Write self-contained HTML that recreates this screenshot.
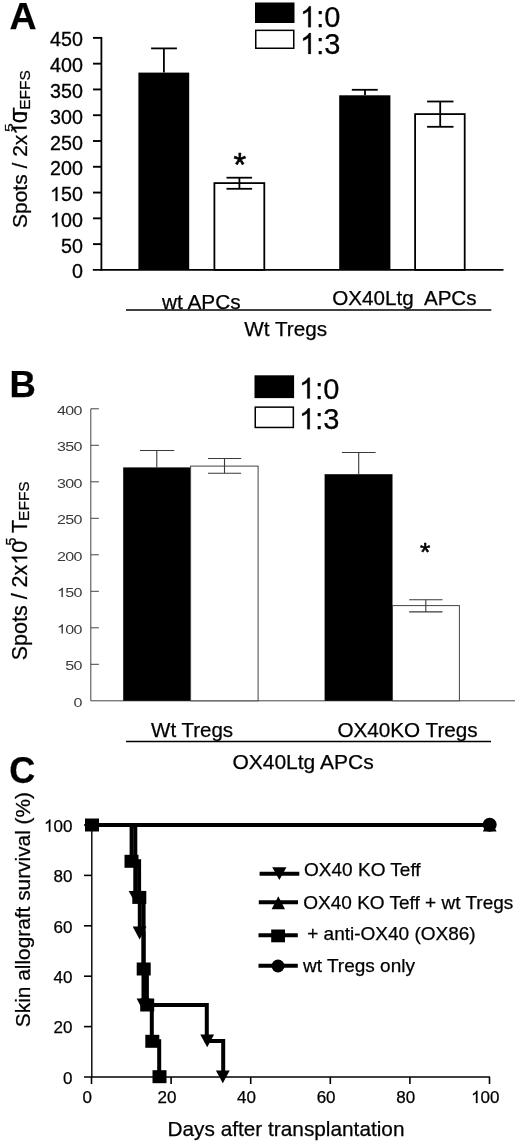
<!DOCTYPE html>
<html><head><meta charset="utf-8">
<style>
html,body{margin:0;padding:0;background:#fff;}
body{width:520px;height:1143px;overflow:hidden;}
svg{display:block;will-change:transform;}
text{font-family:"Liberation Sans",sans-serif;fill:#000;stroke:#000;stroke-width:0.25px;}
</style></head>
<body>
<svg width="520" height="1143" viewBox="0 0 520 1143">
<rect x="0" y="0" width="520" height="1143" fill="#fff"/>
<text x="9.4" y="28.8" font-size="37.5" font-weight="bold">A</text>
<rect x="255" y="2.5" width="39.5" height="20.5" fill="#000"/>
<rect x="255.75" y="30.35" width="38" height="17.9" fill="#fff" stroke="#000" stroke-width="1.5"/>
<text x="300" y="27.2" font-size="29" style="stroke-width:0.25px;fill:#000;stroke:#000" ><tspan style="fill:none;stroke:none">1</tspan>:0</text>
<path d="M763 0H583V1147Q518 1085 412.5 1023T223 930V1104Q374 1175 487 1276T647 1472H763Z" transform="translate(300 27.2) scale(0.014160 -0.014160)" style="fill:#000;stroke:#000;stroke-width:17.655"/>
<text x="300" y="53.9" font-size="29" style="stroke-width:0.25px;fill:#000;stroke:#000" ><tspan style="fill:none;stroke:none">1</tspan>:3</text>
<path d="M763 0H583V1147Q518 1085 412.5 1023T223 930V1104Q374 1175 487 1276T647 1472H763Z" transform="translate(300 53.9) scale(0.014160 -0.014160)" style="fill:#000;stroke:#000;stroke-width:17.655"/>
<g stroke="#000" fill="none">
<line x1="101.4" y1="36.93" x2="101.4" y2="270.8" stroke-width="1.8"/>
<line x1="93" y1="244.12" x2="101.4" y2="244.12" stroke-width="1.9"/>
<line x1="93" y1="218.34" x2="101.4" y2="218.34" stroke-width="1.9"/>
<line x1="93" y1="192.56" x2="101.4" y2="192.56" stroke-width="1.9"/>
<line x1="93" y1="166.78" x2="101.4" y2="166.78" stroke-width="1.9"/>
<line x1="93" y1="141" x2="101.4" y2="141" stroke-width="1.9"/>
<line x1="93" y1="115.22" x2="101.4" y2="115.22" stroke-width="1.9"/>
<line x1="93" y1="89.44" x2="101.4" y2="89.44" stroke-width="1.9"/>
<line x1="93" y1="63.66" x2="101.4" y2="63.66" stroke-width="1.9"/>
<line x1="93" y1="37.88" x2="101.4" y2="37.88" stroke-width="1.9"/>
<line x1="92.8" y1="269.9" x2="503.5" y2="269.9" stroke-width="1.8"/>
</g>
<text x="71.94" y="278.4" font-size="19.7" style="stroke-width:0.3px;fill:#000;stroke:#000" >0</text>
<text x="60.99" y="252.62" font-size="19.7" style="stroke-width:0.3px;fill:#000;stroke:#000" >50</text>
<text x="50.03" y="226.84" font-size="19.7" style="stroke-width:0.3px;fill:#000;stroke:#000" ><tspan style="fill:none;stroke:none">1</tspan>00</text>
<path d="M763 0H583V1147Q518 1085 412.5 1023T223 930V1104Q374 1175 487 1276T647 1472H763Z" transform="translate(50.03 226.84) scale(0.009619 -0.009619)" style="fill:#000;stroke:#000;stroke-width:31.188"/>
<text x="50.03" y="201.06" font-size="19.7" style="stroke-width:0.3px;fill:#000;stroke:#000" ><tspan style="fill:none;stroke:none">1</tspan>50</text>
<path d="M763 0H583V1147Q518 1085 412.5 1023T223 930V1104Q374 1175 487 1276T647 1472H763Z" transform="translate(50.03 201.06) scale(0.009619 -0.009619)" style="fill:#000;stroke:#000;stroke-width:31.188"/>
<text x="50.03" y="175.28" font-size="19.7" style="stroke-width:0.3px;fill:#000;stroke:#000" >200</text>
<text x="50.03" y="149.5" font-size="19.7" style="stroke-width:0.3px;fill:#000;stroke:#000" >250</text>
<text x="50.03" y="123.72" font-size="19.7" style="stroke-width:0.3px;fill:#000;stroke:#000" >300</text>
<text x="50.03" y="97.94" font-size="19.7" style="stroke-width:0.3px;fill:#000;stroke:#000" >350</text>
<text x="50.03" y="72.16" font-size="19.7" style="stroke-width:0.3px;fill:#000;stroke:#000" >400</text>
<text x="50.03" y="46.38" font-size="19.7" style="stroke-width:0.3px;fill:#000;stroke:#000" >450</text>
<rect x="138.4" y="72.6" width="50.8" height="197.3" fill="#000"/>
<rect x="214.4" y="183.1" width="49.9" height="86.8" fill="#fff" stroke="#000" stroke-width="1.8"/>
<rect x="339.2" y="95.3" width="51.2" height="174.6" fill="#000"/>
<rect x="415.1" y="114.1" width="49.6" height="155.8" fill="#fff" stroke="#000" stroke-width="1.8"/>
<g stroke="#000" stroke-width="1.8">
  <line x1="163.9" y1="72.6" x2="163.9" y2="48.4"/>
  <line x1="151.1" y1="48.4" x2="176.9" y2="48.4"/>
  <line x1="239.4" y1="177.7" x2="239.4" y2="188.8"/>
  <line x1="226.5" y1="177.7" x2="252.1" y2="177.7"/>
  <line x1="226.5" y1="188.8" x2="252.1" y2="188.8"/>
  <line x1="365" y1="95.3" x2="365" y2="89.8"/>
  <line x1="351.8" y1="89.8" x2="377.7" y2="89.8"/>
  <line x1="440.2" y1="101.5" x2="440.2" y2="126.8"/>
  <line x1="427.1" y1="101.5" x2="453.5" y2="101.5"/>
  <line x1="427.1" y1="126.8" x2="453.5" y2="126.8"/>
</g>
<text x="233.5" y="175.9" font-size="32.5" style="stroke-width:0.6px;stroke-linejoin:round">*</text>
<text x="162" y="308.5" font-size="20.8" style="stroke-width:0.25px;fill:#000;stroke:#000" >wt APCs</text>
<text x="332.3" y="305.1" font-size="20.6" style="stroke-width:0.25px;fill:#000;stroke:#000" >OX40Ltg  APCs</text>
<line x1="126" y1="310" x2="491.3" y2="310" stroke="#000" stroke-width="1.6"/>
<text x="244.3" y="335.7" font-size="20.7" style="stroke-width:0.25px;fill:#000;stroke:#000" >Wt Tregs</text>
<g transform="translate(26.5,228.05) rotate(-90)">
<text x="0" y="0" font-size="21" style="stroke-width:0.25px;fill:#000;stroke:#000" >Spots / 2x<tspan style="fill:none;stroke:none">1</tspan>0</text>
<path d="M763 0H583V1147Q518 1085 412.5 1023T223 930V1104Q374 1175 487 1276T647 1472H763Z" transform="translate(93.38 0) scale(0.010254 -0.010254)" style="fill:#000;stroke:#000;stroke-width:24.381"/>
<text x="108.1" y="0" font-size="21" style="stroke-width:0.25px;fill:#000;stroke:#000" >T</text>
<g transform="translate(96.1,-13.3) scale(1.35,1)"><text x="0" y="0" font-size="11.5" style="stroke-width:0.25px;fill:#000;stroke:#000" >5</text></g>
<text x="118.3" y="3.6" font-size="15.5" style="stroke-width:0.25px;fill:#000;stroke:#000" >EFFS</text>
</g>
<text x="9.5" y="397.3" font-size="36.5" font-weight="bold">B</text>
<rect x="254.5" y="375.3" width="39.6" height="22.8" fill="#000"/>
<rect x="255.25" y="407.15" width="38.1" height="20.3" fill="#fff" stroke="#000" stroke-width="1.5"/>
<text x="299" y="398.5" font-size="29" style="stroke-width:0.25px;fill:#000;stroke:#000" ><tspan style="fill:none;stroke:none">1</tspan>:0</text>
<path d="M763 0H583V1147Q518 1085 412.5 1023T223 930V1104Q374 1175 487 1276T647 1472H763Z" transform="translate(299 398.5) scale(0.014160 -0.014160)" style="fill:#000;stroke:#000;stroke-width:17.655"/>
<text x="299" y="429.2" font-size="29" style="stroke-width:0.25px;fill:#000;stroke:#000" ><tspan style="fill:none;stroke:none">1</tspan>:3</text>
<path d="M763 0H583V1147Q518 1085 412.5 1023T223 930V1104Q374 1175 487 1276T647 1472H763Z" transform="translate(299 429.2) scale(0.014160 -0.014160)" style="fill:#000;stroke:#000;stroke-width:17.655"/>
<g stroke="#444" stroke-width="1" fill="none">
<line x1="90.8" y1="408.8" x2="90.8" y2="700.8"/>
<line x1="90.8" y1="664.3" x2="98.9" y2="664.3"/>
<line x1="90.8" y1="627.8" x2="98.9" y2="627.8"/>
<line x1="90.8" y1="591.3" x2="98.9" y2="591.3"/>
<line x1="90.8" y1="554.8" x2="98.9" y2="554.8"/>
<line x1="90.8" y1="518.3" x2="98.9" y2="518.3"/>
<line x1="90.8" y1="481.8" x2="98.9" y2="481.8"/>
<line x1="90.8" y1="445.3" x2="98.9" y2="445.3"/>
<line x1="90.8" y1="408.8" x2="98.9" y2="408.8"/>
<line x1="90.8" y1="700.8" x2="515" y2="700.8"/>
</g>
<g transform="translate(81.65,0) scale(1.25,1)">
<text x="-6.6" y="706.6" font-size="12.85" letter-spacing="-0.55" style="stroke-width:0px;fill:#3a3a3a;stroke:#3a3a3a" >0</text>
<text x="-13.19" y="670.1" font-size="12.85" letter-spacing="-0.55" style="stroke-width:0px;fill:#3a3a3a;stroke:#3a3a3a" >50</text>
<text x="-19.79" y="633.6" font-size="12.85" letter-spacing="-0.55" style="stroke-width:0px;fill:#3a3a3a;stroke:#3a3a3a" ><tspan style="fill:none;stroke:none">1</tspan>00</text>
<path d="M763 0H583V1147Q518 1085 412.5 1023T223 930V1104Q374 1175 487 1276T647 1472H763Z" transform="translate(-19.79 633.6) scale(0.006274 -0.006274)" style="fill:#3a3a3a;stroke:#3a3a3a;stroke-width:0.000"/>
<text x="-19.79" y="597.1" font-size="12.85" letter-spacing="-0.55" style="stroke-width:0px;fill:#3a3a3a;stroke:#3a3a3a" ><tspan style="fill:none;stroke:none">1</tspan>50</text>
<path d="M763 0H583V1147Q518 1085 412.5 1023T223 930V1104Q374 1175 487 1276T647 1472H763Z" transform="translate(-19.79 597.1) scale(0.006274 -0.006274)" style="fill:#3a3a3a;stroke:#3a3a3a;stroke-width:0.000"/>
<text x="-19.79" y="560.6" font-size="12.85" letter-spacing="-0.55" style="stroke-width:0px;fill:#3a3a3a;stroke:#3a3a3a" >200</text>
<text x="-19.79" y="524.1" font-size="12.85" letter-spacing="-0.55" style="stroke-width:0px;fill:#3a3a3a;stroke:#3a3a3a" >250</text>
<text x="-19.79" y="487.6" font-size="12.85" letter-spacing="-0.55" style="stroke-width:0px;fill:#3a3a3a;stroke:#3a3a3a" >300</text>
<text x="-19.79" y="451.1" font-size="12.85" letter-spacing="-0.55" style="stroke-width:0px;fill:#3a3a3a;stroke:#3a3a3a" >350</text>
<text x="-19.79" y="414.6" font-size="12.85" letter-spacing="-0.55" style="stroke-width:0px;fill:#3a3a3a;stroke:#3a3a3a" >400</text>
</g>
<rect x="123.2" y="467.4" width="67.4" height="233.4" fill="#000"/>
<rect x="190.6" y="466.1" width="67.5" height="234.7" fill="#fff" stroke="#444" stroke-width="1"/>
<rect x="324.6" y="474.2" width="67.9" height="226.6" fill="#000"/>
<rect x="392.5" y="605.6" width="66.9" height="95.2" fill="#fff" stroke="#444" stroke-width="1"/>
<g stroke="#3a3a3a" stroke-width="1.1">
  <line x1="156.8" y1="467.4" x2="156.8" y2="450.5"/>
  <line x1="140" y1="450.5" x2="174.2" y2="450.5"/>
  <line x1="224.5" y1="458.5" x2="224.5" y2="473.2"/>
  <line x1="208" y1="458.5" x2="241.2" y2="458.5"/>
  <line x1="208" y1="473.2" x2="241.2" y2="473.2"/>
  <line x1="358.7" y1="474.2" x2="358.7" y2="452.5"/>
  <line x1="341.9" y1="452.5" x2="375.6" y2="452.5"/>
  <line x1="425.8" y1="599.8" x2="425.8" y2="611.9"/>
  <line x1="409.2" y1="599.8" x2="442.5" y2="599.8"/>
  <line x1="409.2" y1="611.9" x2="442.5" y2="611.9"/>
</g>
<text x="419.9" y="560.6" font-size="26.5" style="stroke-width:0.6px;stroke-linejoin:round">*</text>
<text x="151.1" y="736.5" font-size="20.5" style="stroke-width:0.25px;fill:#000;stroke:#000" >Wt Tregs</text>
<text x="337.4" y="736.5" font-size="20.7" style="stroke-width:0.25px;fill:#000;stroke:#000" >OX40KO Tregs</text>
<line x1="126" y1="741.5" x2="491" y2="741.5" stroke="#000" stroke-width="1.5"/>
<text x="232.4" y="768.5" font-size="21" style="stroke-width:0.25px;fill:#000;stroke:#000" >OX40Ltg APCs</text>
<g transform="translate(27.2,660.3) rotate(-90)">
<text x="0" y="0" font-size="21.5" style="stroke-width:0.25px;fill:#000;stroke:#000" >Spots / 2x<tspan style="fill:none;stroke:none">1</tspan>0</text>
<path d="M763 0H583V1147Q518 1085 412.5 1023T223 930V1104Q374 1175 487 1276T647 1472H763Z" transform="translate(95.61 0) scale(0.010498 -0.010498)" style="fill:#000;stroke:#000;stroke-width:23.814"/>
<text x="127.3" y="0" font-size="21.5" style="stroke-width:0.25px;fill:#000;stroke:#000" >T</text>
<text x="114.7" y="-11.6" font-size="14" style="stroke-width:0.25px;fill:#000;stroke:#000" >5</text>
<text x="139.4" y="2.2" font-size="15.5" style="stroke-width:0.25px;fill:#000;stroke:#000" >EFFS</text>
</g>
<text x="9.3" y="782.6" font-size="36" font-weight="bold">C</text>
<g stroke="#000" fill="none">
<line x1="91.8" y1="825" x2="91.8" y2="1077" stroke-width="1.4"/>
<line x1="84" y1="825" x2="91.8" y2="825" stroke-width="1.6"/>
<line x1="84" y1="875.4" x2="91.8" y2="875.4" stroke-width="1.6"/>
<line x1="84" y1="925.8" x2="91.8" y2="925.8" stroke-width="1.6"/>
<line x1="84" y1="976.2" x2="91.8" y2="976.2" stroke-width="1.6"/>
<line x1="84" y1="1026.6" x2="91.8" y2="1026.6" stroke-width="1.6"/>
<line x1="84" y1="1077" x2="490" y2="1077" stroke-width="1.6"/>
<line x1="91.5" y1="1077" x2="91.5" y2="1084" stroke-width="1.6"/>
<line x1="171.1" y1="1077" x2="171.1" y2="1084" stroke-width="1.6"/>
<line x1="250.7" y1="1077" x2="250.7" y2="1084" stroke-width="1.6"/>
<line x1="330.3" y1="1077" x2="330.3" y2="1084" stroke-width="1.6"/>
<line x1="409.9" y1="1077" x2="409.9" y2="1084" stroke-width="1.6"/>
<line x1="489.5" y1="1077" x2="489.5" y2="1084" stroke-width="1.6"/>
</g>
<text x="44.04" y="831.7" font-size="17" style="stroke-width:0.25px;fill:#000;stroke:#000" ><tspan style="fill:none;stroke:none">1</tspan>00</text>
<path d="M763 0H583V1147Q518 1085 412.5 1023T223 930V1104Q374 1175 487 1276T647 1472H763Z" transform="translate(44.04 831.7) scale(0.008301 -0.008301)" style="fill:#000;stroke:#000;stroke-width:30.118"/>
<text x="53.49" y="882.1" font-size="17" style="stroke-width:0.25px;fill:#000;stroke:#000" >80</text>
<text x="53.49" y="932.5" font-size="17" style="stroke-width:0.25px;fill:#000;stroke:#000" >60</text>
<text x="53.49" y="982.9" font-size="17" style="stroke-width:0.25px;fill:#000;stroke:#000" >40</text>
<text x="53.49" y="1033.3" font-size="17" style="stroke-width:0.25px;fill:#000;stroke:#000" >20</text>
<text x="62.95" y="1083.7" font-size="17" style="stroke-width:0.25px;fill:#000;stroke:#000" >0</text>
<text x="82.57" y="1103" font-size="17" style="stroke-width:0.25px;fill:#000;stroke:#000" >0</text>
<text x="157.45" y="1103" font-size="17" style="stroke-width:0.25px;fill:#000;stroke:#000" >20</text>
<text x="237.05" y="1103" font-size="17" style="stroke-width:0.25px;fill:#000;stroke:#000" >40</text>
<text x="316.65" y="1103" font-size="17" style="stroke-width:0.25px;fill:#000;stroke:#000" >60</text>
<text x="396.25" y="1103" font-size="17" style="stroke-width:0.25px;fill:#000;stroke:#000" >80</text>
<text x="471.12" y="1103" font-size="17" style="stroke-width:0.25px;fill:#000;stroke:#000" ><tspan style="fill:none;stroke:none">1</tspan>00</text>
<path d="M763 0H583V1147Q518 1085 412.5 1023T223 930V1104Q374 1175 487 1276T647 1472H763Z" transform="translate(471.12 1103) scale(0.008301 -0.008301)" style="fill:#000;stroke:#000;stroke-width:30.118"/>
<text x="167.5" y="1136" font-size="20.8" style="stroke-width:0.25px;fill:#000;stroke:#000" >Days after transplantation</text>
<g transform="translate(30,1027.15) rotate(-90)">
<text x="0" y="0" font-size="20.85" style="stroke-width:0.25px;fill:#000;stroke:#000" >Skin allograft survival (%)</text>
</g>
<g stroke="#000" stroke-width="4" fill="none" stroke-linejoin="miter" stroke-linecap="butt">
  <path d="M92,825 H489.7"/>
  <path d="M92,825 H131.6 V861.3 H139.1 V897.4 H143.6 V969 H146.9 V1005 H151.8 V1041.3 H159.2 V1077"/>
  <path d="M92,825 H135.3 V897.4 H139.8 V933 H143.5 V1005 H206.8 V1041 H223.2 V1077"/>
</g>
<defs>
  <path id="sq" d="M-7,-6.5 h14 v13 h-14 z"/>
  <path id="dn" d="M-6.9,-6.4 H6.9 L0,6.4 z"/>
  <path id="up" d="M-6.9,6.4 H6.9 L0,-6.4 z"/>
</defs>
<g fill="#000">
  <use href="#dn" x="135.6" y="897.4"/>
  <use href="#dn" x="139.6" y="933"/>
  <use href="#dn" x="143.5" y="1005"/>
  <use href="#dn" x="207.2" y="1040.8"/>
  <use href="#dn" x="222.8" y="1076.9"/>
  <use href="#sq" x="92" y="825"/>
  <use href="#sq" x="131.5" y="861.3"/>
  <use href="#sq" x="139.3" y="897.4"/>
  <use href="#sq" x="143.7" y="969"/>
  <use href="#sq" x="147.2" y="1005"/>
  <use href="#sq" x="152.3" y="1041.3"/>
  <use href="#sq" x="159.5" y="1076.7"/>
  <use href="#up" x="489.7" y="825"/>
  <circle cx="489.7" cy="824.8" r="7"/>
</g>
<g stroke="#000" stroke-width="4">
  <line x1="259.6" y1="873.7" x2="299.3" y2="873.7"/>
  <line x1="258.8" y1="902.2" x2="298" y2="902.2"/>
  <line x1="258.5" y1="935.3" x2="297.8" y2="935.3"/>
  <line x1="258.5" y1="965.8" x2="297.8" y2="965.8"/>
</g>
<g fill="#000">
  <path d="M272.2,867.3 H286.5 L279.35,879.9 z"/>
  <path d="M271.6,909.2 H285 L278.3,896.2 z"/>
  <rect x="271.2" y="929.5" width="13.8" height="12.8"/>
  <circle cx="278" cy="966" r="6.5"/>
</g>
<text x="304.1" y="875.8" font-size="19" style="stroke-width:0.25px;fill:#000;stroke:#000" >OX40 KO Teff</text>
<text x="303.3" y="909" font-size="19" style="stroke-width:0.25px;fill:#000;stroke:#000" >OX40 KO Teff + wt Tregs</text>
<text x="307.2" y="939.5" font-size="19" style="stroke-width:0.25px;fill:#000;stroke:#000" >+ anti-OX40 (OX86)</text>
<text x="303" y="972" font-size="19" style="stroke-width:0.25px;fill:#000;stroke:#000" >wt Tregs only</text>
</svg>
</body></html>
